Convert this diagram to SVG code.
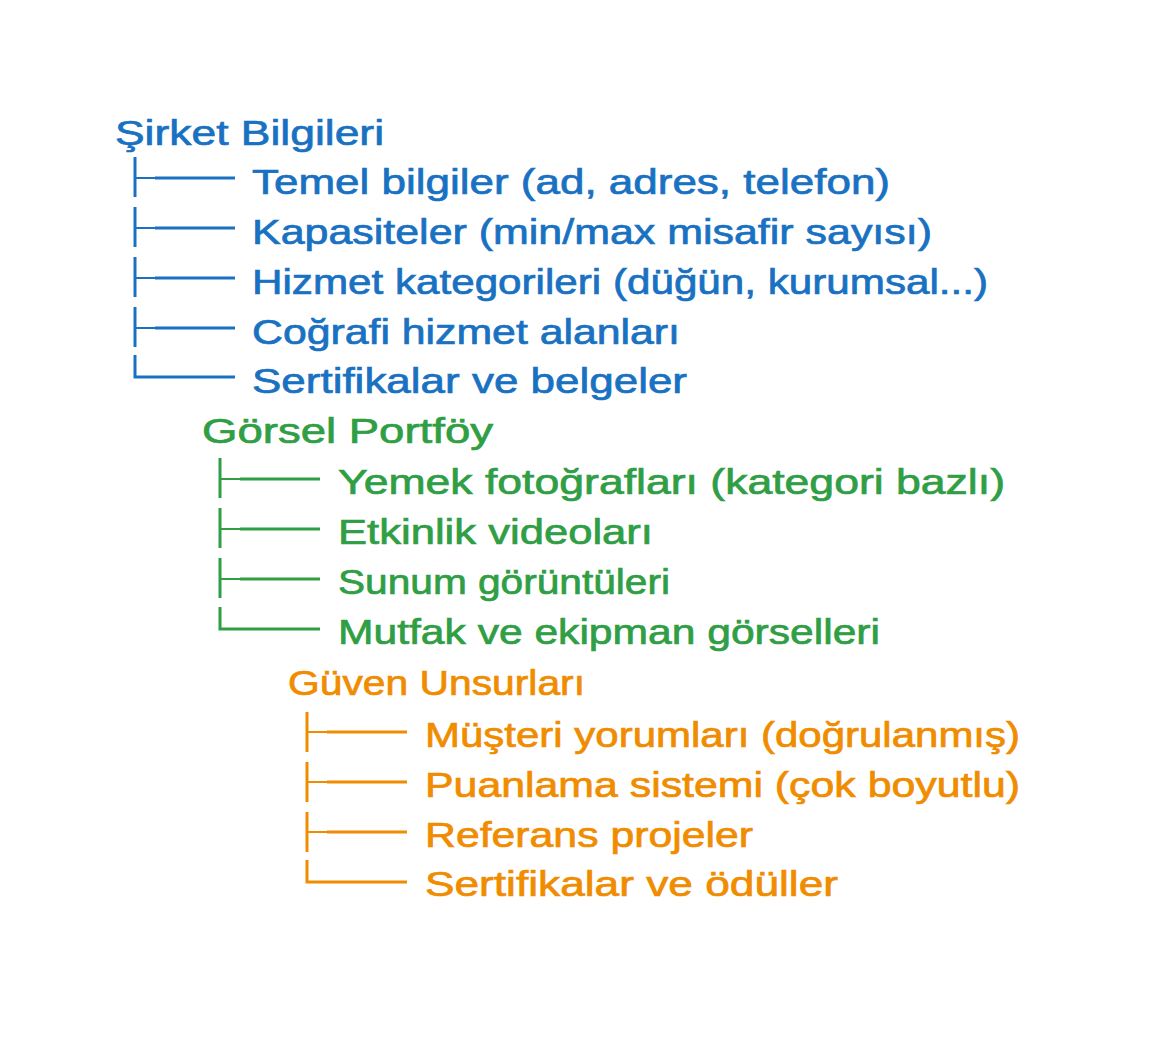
<svg xmlns="http://www.w3.org/2000/svg" width="1170" height="1058" viewBox="0 0 1170 1058">
<style>
text{font-family:"Liberation Sans","Noto Sans",sans-serif;font-size:35px;stroke-width:0.7px;}
.b{fill:#1971c2;stroke:#1971c2}.g{fill:#2f9e44;stroke:#2f9e44}.o{fill:#f08c00;stroke:#f08c00}
.lb{stroke:#1971c2}.lg{stroke:#2f9e44}.lo{stroke:#f08c00}
.c path{fill:none;stroke-width:3;stroke-linecap:butt}
.c path.t{stroke-width:2}
</style>
<rect width="1170" height="1058" fill="#ffffff"/>
<g id="connectors" class="c">
<g class="lb">
<path d="M135 157V197"/><path class="t" d="M135 178H155"/><path d="M155 178H235"/>
<path d="M135 207V247"/><path class="t" d="M135 228H155"/><path d="M155 228H235"/>
<path d="M135 257V297"/><path class="t" d="M135 278H155"/><path d="M155 278H235"/>
<path d="M135 307V347"/><path class="t" d="M135 328H155"/><path d="M155 328H235"/>
<path d="M135 355V377H235"/>
</g>
<g class="lg">
<path d="M220 458V498"/><path class="t" d="M220 479H240"/><path d="M240 479H320"/>
<path d="M220 508V548"/><path class="t" d="M220 529H240"/><path d="M240 529H320"/>
<path d="M220 558V598"/><path class="t" d="M220 579H240"/><path d="M240 579H320"/>
<path d="M220 607V629H320"/>
</g>
<g class="lo">
<path d="M307 712V752"/><path class="t" d="M307 732H327"/><path d="M327 732H407"/>
<path d="M307 762V802"/><path class="t" d="M307 782H327"/><path d="M327 782H407"/>
<path d="M307 812V852"/><path class="t" d="M307 832H327"/><path d="M327 832H407"/>
<path d="M307 860V882H407"/>
</g>
</g>
<g id="sirket">
<text id="n-sirket" class="b" x="115" y="145" textLength="269" lengthAdjust="spacingAndGlyphs">Şirket Bilgileri</text>
<text id="n-temel" class="b" x="252" y="194" textLength="638" lengthAdjust="spacingAndGlyphs">Temel bilgiler (ad, adres, telefon)</text>
<text id="n-kapasite" class="b" x="252" y="244" textLength="680" lengthAdjust="spacingAndGlyphs">Kapasiteler (min/max misafir sayısı)</text>
<text id="n-hizmet" class="b" x="252" y="294" textLength="736" lengthAdjust="spacingAndGlyphs">Hizmet kategorileri (düğün, kurumsal...)</text>
<text id="n-cografi" class="b" x="252" y="344" textLength="428" lengthAdjust="spacingAndGlyphs">Coğrafi hizmet alanları</text>
<text id="n-sertifika1" class="b" x="252" y="393" textLength="435" lengthAdjust="spacingAndGlyphs">Sertifikalar ve belgeler</text>
</g>
<g id="gorsel">
<text id="n-gorsel" class="g" x="202" y="443" textLength="291" lengthAdjust="spacingAndGlyphs">Görsel Portföy</text>
<text id="n-yemek" class="g" x="338" y="494" textLength="667" lengthAdjust="spacingAndGlyphs">Yemek fotoğrafları (kategori bazlı)</text>
<text id="n-etkinlik" class="g" x="338" y="544" textLength="315" lengthAdjust="spacingAndGlyphs">Etkinlik videoları</text>
<text id="n-sunum" class="g" x="338" y="594" textLength="332" lengthAdjust="spacingAndGlyphs">Sunum görüntüleri</text>
<text id="n-mutfak" class="g" x="338" y="644" textLength="542" lengthAdjust="spacingAndGlyphs">Mutfak ve ekipman görselleri</text>
</g>
<g id="guven">
<text id="n-guven" class="o" x="288" y="695" textLength="297" lengthAdjust="spacingAndGlyphs">Güven Unsurları</text>
<text id="n-musteri" class="o" x="425" y="747" textLength="595" lengthAdjust="spacingAndGlyphs">Müşteri yorumları (doğrulanmış)</text>
<text id="n-puanlama" class="o" x="425" y="797" textLength="595" lengthAdjust="spacingAndGlyphs">Puanlama sistemi (çok boyutlu)</text>
<text id="n-referans" class="o" x="425" y="847" textLength="328" lengthAdjust="spacingAndGlyphs">Referans projeler</text>
<text id="n-sertifika2" class="o" x="425" y="896" textLength="413" lengthAdjust="spacingAndGlyphs">Sertifikalar ve ödüller</text>
</g>
</svg>
